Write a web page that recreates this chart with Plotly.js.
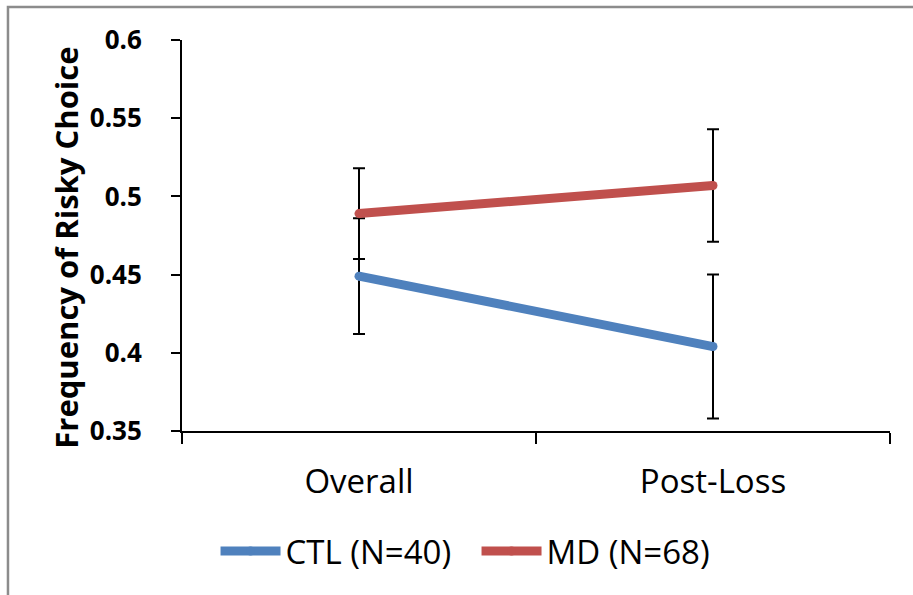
<!DOCTYPE html>
<html>
<head>
<meta charset="utf-8">
<script src="https://cdn.plot.ly/plotly-3.0.1.min.js"></script>
<style>
  html, body { margin: 0; padding: 0; background: #fff; }
  #chart { width: 913px; height: 595px; }
</style>
</head>
<body>
<div id="chart"></div>
<script>
// ---- Data ----
const categories = ['Overall', 'Post-Loss'];
const seriesNames = ['CTL (N=40)', 'MD (N=68)'];
const ctlValues = [0.449, 0.404];
const ctlErrors = [0.037, 0.046];
const mdValues = [0.489, 0.507];
const mdErrors = [0.029, 0.036];
const yTickValues = [0.35, 0.4, 0.45, 0.5, 0.55, 0.6];
const yTickLabels = ['0.35', '0.4', '0.45', '0.5', '0.55', '0.6'];

const blue = '#4F81BD';
const red = '#C0504D';

function makeTrace(name, values, errors, color) {
  return {
    type: 'scatter',
    mode: 'lines+markers',
    name: name,
    x: categories,
    y: values,
    line: { color: color, width: 9 },
    marker: { color: color, size: 9 },
    error_y: { type: 'data', array: errors, visible: true, color: '#000', thickness: 2, width: 6 }
  };
}

const traces = [
  makeTrace(seriesNames[0], ctlValues, ctlErrors, blue),
  makeTrace(seriesNames[1], mdValues, mdErrors, red)
];

const font = 'Open Sans, Noto Sans, sans-serif';

const layout = {
  width: 913,
  height: 595,
  margin: { l: 182, r: 23, t: 40, b: 164 },
  paper_bgcolor: '#fff',
  plot_bgcolor: '#fff',
  showlegend: true,
  font: { family: font, color: '#000' },
  xaxis: {
    type: 'category',
    range: [-0.5, 1.5],
    showgrid: false,
    zeroline: false,
    showline: true,
    linecolor: '#000',
    linewidth: 2,
    ticks: 'outside',
    tickson: 'boundaries',
    ticklen: 11,
    tickwidth: 2,
    tickcolor: '#000',
    ticklabelstandoff: 20,
    tickfont: { family: font, size: 33, color: '#000' },
    fixedrange: true
  },
  yaxis: {
    range: [0.35, 0.6],
    tickvals: yTickValues,
    ticktext: yTickLabels,
    showgrid: false,
    zeroline: false,
    showline: true,
    linecolor: '#000',
    linewidth: 2,
    ticks: 'outside',
    ticklen: 9,
    tickwidth: 2,
    tickcolor: '#000',
    ticklabelstandoff: 24,
    tickfont: { family: font, size: 26, color: '#000', weight: 'bold' },
    title: {
      text: '<b>Frequency of Risky Choice\u00a0\u00a0\u00a0</b>',
      font: { family: font, size: 31, color: '#000' },
      standoff: 2
    },
    fixedrange: true
  },
  legend: {
    orientation: 'h',
    x: 0.416,
    xanchor: 'center',
    y: -0.307,
    yanchor: 'middle',
    font: { family: font, size: 33, color: '#000' },
    itemwidth: 60,
    entrywidth: 186,
    entrywidthmode: 'pixels',
    bgcolor: 'rgba(0,0,0,0)'
  },
  shapes: [{
    type: 'rect',
    xref: 'paper', yref: 'paper',
    x0: -0.2458, x1: 1.06, y0: -0.46, y1: 1.0844,
    line: { color: '#8c8c8c', width: 2.5 },
    fillcolor: 'rgba(0,0,0,0)',
    layer: 'below'
  }]
};

Plotly.newPlot('chart', traces, layout, { displayModeBar: false, staticPlot: true });
</script>
</body>
</html>
